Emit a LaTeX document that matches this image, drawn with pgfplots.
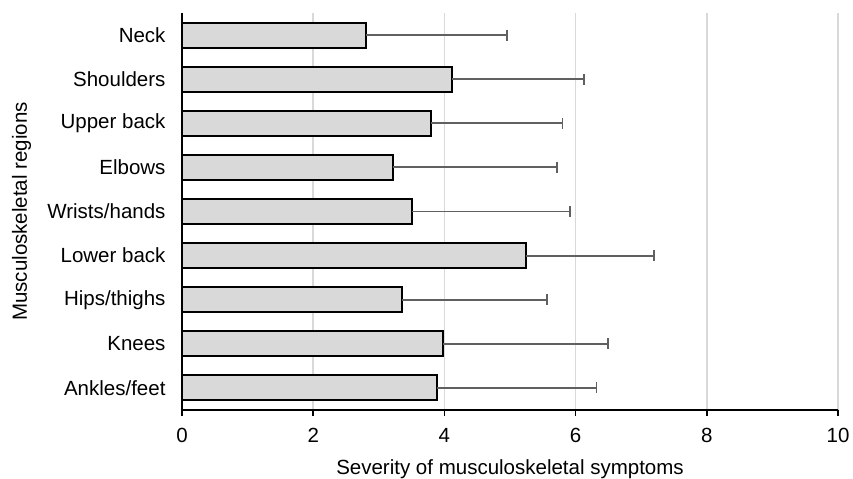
\documentclass[border=0pt]{standalone}
\usepackage{pgfplots}
\pgfplotsset{compat=1.18}
\usepackage{pgfplotstable}
\usepackage{fontspec}
\setmainfont{Liberation Sans}
\definecolor{barfill}{HTML}{D9D9D9}
\definecolor{errgray}{HTML}{606060}
\definecolor{gridgray}{HTML}{D9D9D9}
\newcommand{\chartfont}{\fontsize{20.5bp}{24bp}\selectfont}

\pgfplotstableread{
idx mean err
8 2.80 2.15
7 4.12 2.01
6 3.80 2.00
5 3.21 2.51
4 3.50 2.41
3 5.24 1.96
2 3.36 2.21
1 3.98 2.51
0 3.89 2.43
}\datatable

\begin{document}
\begin{tikzpicture}
\begin{axis}[
  at={(182bp,69bp)}, anchor=south west,
  scale only axis, width=656bp, height=397bp,
  xmin=0, xmax=10, ymin=-0.5, ymax=8.5,
  xtick={0,2,...,10},
  ytick={0,...,8},
  yticklabels={Ankles/feet,Knees,Hips/thighs,Lower back,Wrists/hands,Elbows,Upper back,Shoulders,Neck},
  axis x line*=bottom, axis y line*=left,
  axis line style={line width=2bp, black, -},
  xtick pos=bottom, tick align=outside,
  major tick length=6bp,
  x tick style={black, line width=1.5bp},
  y tick style={draw=none},
  xmajorgrids, grid style={gridgray, line width=1.5bp},
  /pgf/number format/assume math mode=true,
  ticklabel style={font=\chartfont},
  label style={font=\chartfont},
  xticklabel style={yshift=-9bp},
  yticklabel style={xshift=-7bp},
  xlabel={Severity of musculoskeletal symptoms},
  ylabel={Musculoskeletal regions},
  xlabel style={at={(axis description cs:0.5,-0.1637)}, anchor=base},
  ylabel style={at={(axis description cs:-0.2363,0.5)}, anchor=base},
  clip=false,
]
\addplot[xbar, bar width=25bp, fill=barfill, draw=black, line width=2bp,
  error bars/.cd, x dir=plus, x explicit,
  error mark=|,
  error bar style={errgray, line width=1.8bp},
  error mark options={errgray, line width=1.8bp, mark size=5.5bp}]
  table[x=mean, y=idx, x error=err] {\datatable};
\end{axis}
\pgfresetboundingbox
\path[use as bounding box] (0,0) rectangle (853bp,479bp);
\end{tikzpicture}
\end{document}
